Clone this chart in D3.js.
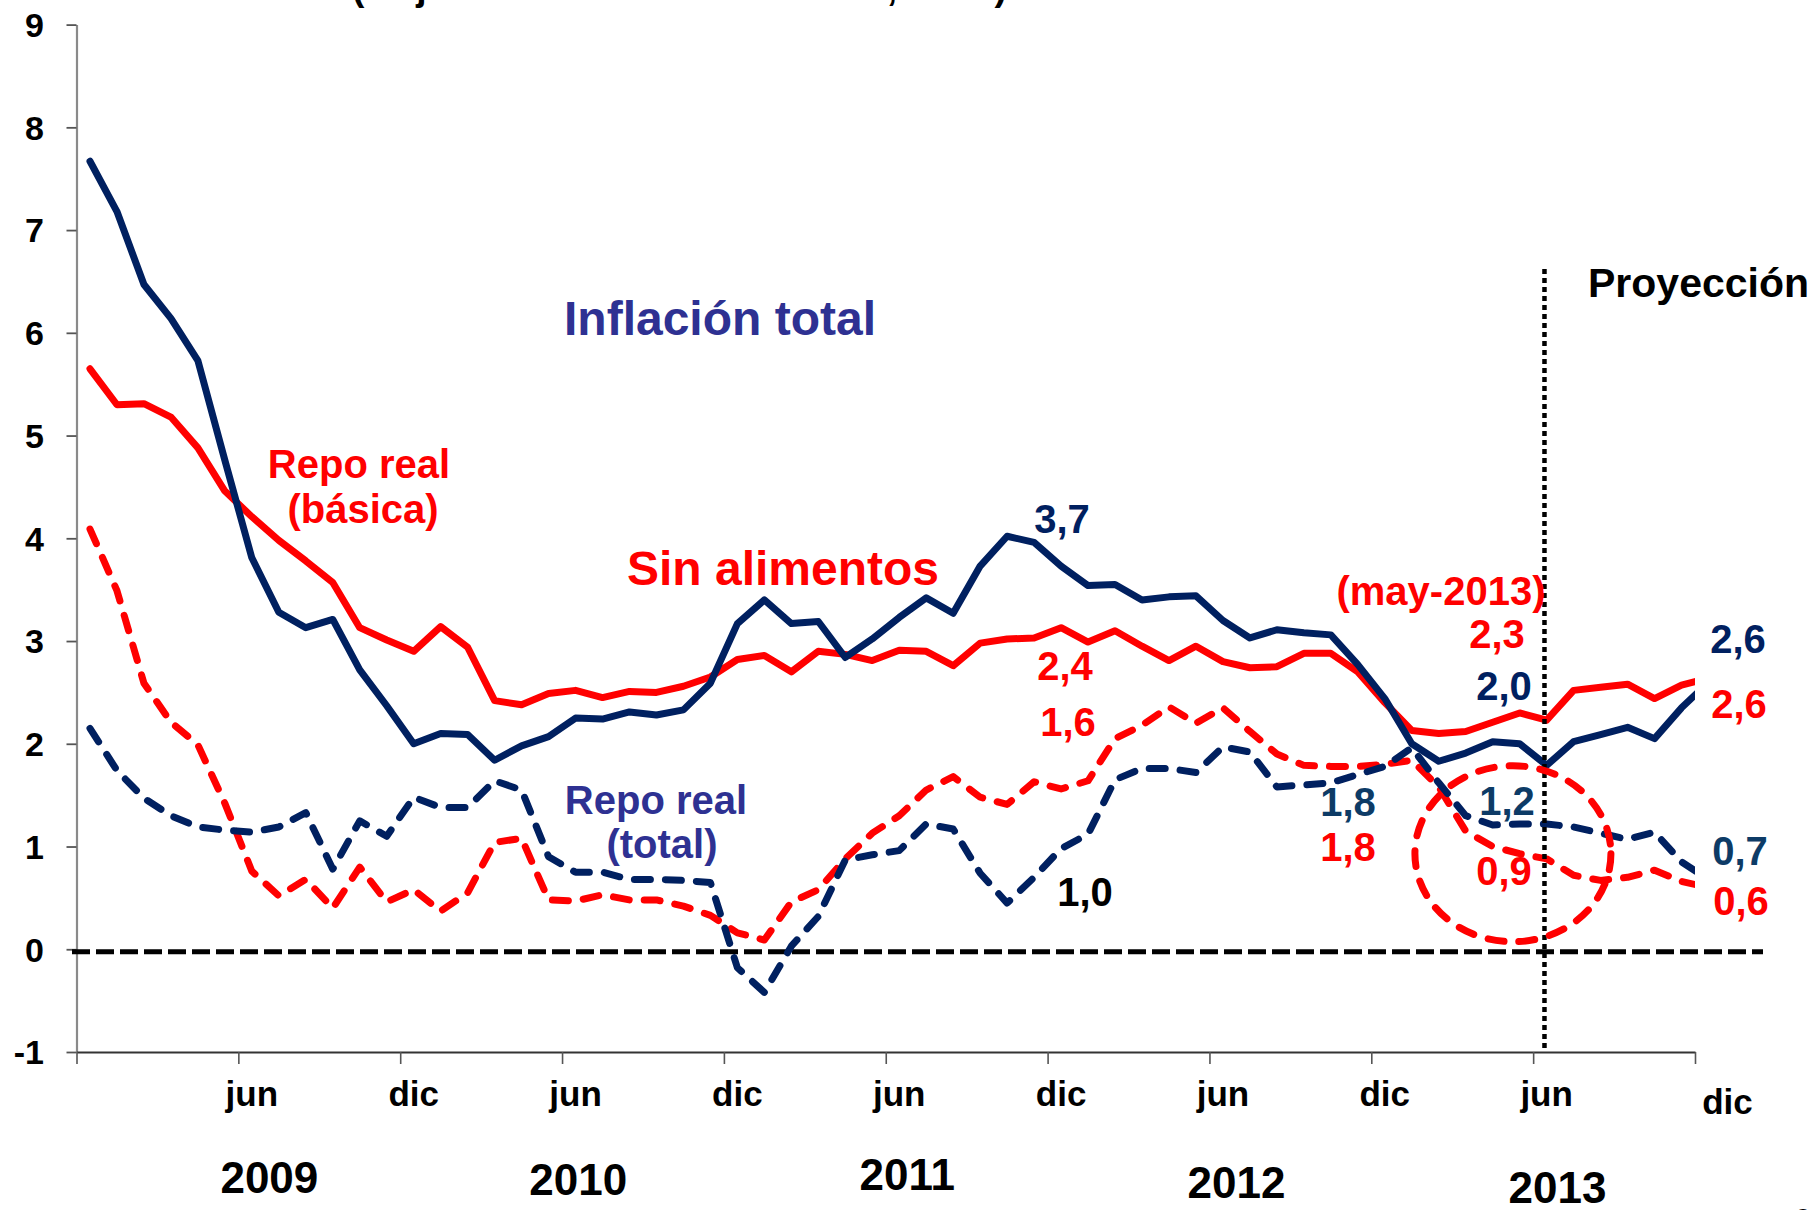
<!DOCTYPE html>
<html>
<head>
<meta charset="utf-8">
<script src="https://cdn.jsdelivr.net/npm/d3@7"></script>
<style>
  body { margin: 0; background: #fff; }
  svg { display: block; }
  text { font-family: "Liberation Sans", Arial, Helvetica, sans-serif; font-weight: bold; }
</style>
</head>
<body>
<svg id="chart" width="1816" height="1210"></svg>
<script>
// Monthly categories: dic-2008 ... dic-2013 (61 months)
const months = d3.timeMonth.range(new Date(2008, 11, 1), new Date(2014, 0, 1));

// Inflación total (annual %, observed to may-2013, projection afterwards)
const inflacionTotal = [
  7.67,
  7.18, 6.47, 6.14, 5.73, 4.76, 3.81, 3.28, 3.13, 3.21, 2.72, 2.37, 2.00,
  2.10, 2.09, 1.84, 1.98, 2.07, 2.25, 2.24, 2.31, 2.28, 2.33, 2.59, 3.17,
  3.40, 3.17, 3.19, 2.84, 3.02, 3.23, 3.42, 3.27, 3.73, 4.02, 3.96, 3.73,
  3.54, 3.55, 3.40, 3.43, 3.44, 3.20, 3.03, 3.11, 3.08, 3.06, 2.77, 2.44,
  2.00, 1.83, 1.91, 2.02, 2.00, 1.79, 2.02, 2.09, 2.16, 2.05, 2.35, 2.60
];

// Inflación sin alimentos
const sinAlimentos = [
  5.65,
  5.30, 5.31, 5.18, 4.88, 4.46, 4.21, 3.98, 3.78, 3.57, 3.13, 3.01, 2.90,
  3.14, 2.94, 2.42, 2.38, 2.49, 2.52, 2.45, 2.51, 2.50, 2.56, 2.65, 2.82,
  2.86, 2.70, 2.90, 2.87, 2.81, 2.91, 2.90, 2.76, 2.98, 3.02, 3.03, 3.13,
  2.99, 3.10, 2.95, 2.81, 2.95, 2.80, 2.74, 2.75, 2.88, 2.88, 2.70, 2.40,
  2.13, 2.10, 2.12, 2.21, 2.30, 2.23, 2.52, 2.55, 2.58, 2.44, 2.57, 2.64
];

// Tasa repo real deflactada con inflación básica
const repoRealBasica = [
  4.09,
  3.49, 2.59, 2.21, 1.99, 1.42, 0.76, 0.52, 0.68, 0.40, 0.80, 0.46, 0.58,
  0.37, 0.55, 1.04, 1.08, 0.48, 0.47, 0.53, 0.48, 0.48, 0.42, 0.33, 0.16,
  0.09, 0.46, 0.58, 0.88, 1.13, 1.30, 1.55, 1.68, 1.48, 1.41, 1.63, 1.56,
  1.64, 2.05, 2.18, 2.36, 2.20, 2.35, 2.12, 1.90, 1.79, 1.78, 1.78, 1.80,
  1.84, 1.58, 1.15, 1.00, 0.93, 0.88, 0.72, 0.67, 0.70, 0.77, 0.66, 0.60
];

// Tasa repo real deflactada con inflación total
const repoRealTotal = [
  2.15,
  1.74, 1.47, 1.30, 1.19, 1.16, 1.14, 1.19, 1.33, 0.78, 1.25, 1.10, 1.48,
  1.38, 1.38, 1.64, 1.55, 0.90, 0.75, 0.75, 0.68, 0.68, 0.67, 0.65, -0.18,
  -0.42, 0.03, 0.32, 0.87, 0.92, 0.96, 1.22, 1.17, 0.74, 0.45, 0.70, 0.98,
  1.12, 1.65, 1.76, 1.76, 1.72, 1.97, 1.92, 1.58, 1.60, 1.62, 1.70, 1.78,
  1.96, 1.62, 1.30, 1.21, 1.22, 1.22, 1.19, 1.13, 1.07, 1.14, 0.85, 0.68
];

// Axis labels
const yTicks = [-1, 0, 1, 2, 3, 4, 5, 6, 7, 8, 9];
const monthTickLabels = ["jun", "dic", "jun", "dic", "jun", "dic", "jun", "dic", "jun", "dic"];
const yearLabels = ["2009", "2010", "2011", "2012", "2013"];

// ---------------------------------------------------------------------------
const NAVY = "#002060";
const RED = "#ff0000";
const TITLE_BLUE = "#2e3192";
const LABEL_BLUE = "#0d3b66";

const svg = d3.select("#chart");
svg.append("rect").attr("width", 1816).attr("height", 1210).attr("fill", "#fff");

const x = d3.scaleLinear().domain([-0.5, 59.5]).range([76.5, 1695]);
const y = d3.scaleLinear().domain([-1, 9]).range([1052, 24.6]);
const fmt = v => d3.format(".1f")(v).replace(".", ",");

svg.append("defs").append("clipPath").attr("id", "plot-clip")
  .append("rect").attr("x", 70).attr("y", 0).attr("width", 1695 - 70).attr("height", 1210);

// Partial heading line above the plot
svg.append("text")
  .attr("x", 352).attr("y", 0)
  .attr("font-size", 38)
  .attr("textLength", 655).attr("lengthAdjust", "spacingAndGlyphs")
  .attr("fill", "#000")
  .text("(Mejor estimación de inflación, en %)");

// Y axis
const yAxis = d3.axisLeft(y).tickValues(yTicks).tickSize(10).tickSizeOuter(0).tickPadding(0);
const gy = svg.append("g").attr("transform", `translate(${x(-0.5)},0)`).call(yAxis);
gy.select(".domain").attr("stroke", "#8a8a8a").attr("stroke-width", 2.2);
gy.selectAll(".tick line").attr("stroke", "#555").attr("stroke-width", 1.8);
gy.selectAll(".tick text").remove();
svg.append("g").selectAll("text").data(yTicks).join("text")
  .attr("x", 44).attr("y", d => y(d)).attr("dy", "0.36em")
  .attr("text-anchor", "end").attr("font-size", 34).attr("fill", "#000")
  .text(d => d);

// X axis: ticks on six-month boundaries
const boundaries = d3.range(0, 11).map(k => -0.5 + 6 * k);
const xAxis = d3.axisBottom(x).tickValues(boundaries).tickSize(12).tickSizeOuter(0).tickFormat("");
const gx = svg.append("g").attr("transform", `translate(0,${y(-1)})`).call(xAxis);
gx.select(".domain").attr("stroke", "#333").attr("stroke-width", 2.2);
gx.selectAll(".tick line").attr("stroke", "#555").attr("stroke-width", 1.6);

// Month labels centred on jun / dic categories
svg.append("g").selectAll("text").data(monthTickLabels).join("text")
  .attr("x", (d, i) => x(6 + 6 * i) + (i === monthTickLabels.length - 1 ? 19 : 0))
  .attr("y", (d, i) => i === monthTickLabels.length - 1 ? 1114 : 1106)
  .attr("text-anchor", "middle").attr("font-size", 35).attr("fill", "#000")
  .text(d => d);

// Year labels
const yearPos = [[6.65, 1193], [18.1, 1195], [30.3, 1190], [42.5, 1198], [54.4, 1203]];
svg.append("g").selectAll("text").data(yearLabels).join("text")
  .attr("x", (d, i) => x(yearPos[i][0]))
  .attr("y", (d, i) => yearPos[i][1])
  .attr("text-anchor", "middle").attr("font-size", 44).attr("fill", "#000")
  .text(d => d);

// Zero reference line
svg.append("line")
  .attr("x1", 72).attr("x2", 1763).attr("y1", y(0) + 2.5).attr("y2", y(0) + 2.5)
  .attr("stroke", "#000").attr("stroke-width", 5).attr("stroke-dasharray", "18,6");

// Series
const line = d3.line().x((d, i) => x(i)).y(d => y(d));
const plot = svg.append("g").attr("clip-path", "url(#plot-clip)");
const series = [
  { values: repoRealBasica, color: RED, dash: "16,15" },
  { values: repoRealTotal, color: NAVY, dash: "16,15" },
  { values: sinAlimentos, color: RED, dash: null },
  { values: inflacionTotal, color: NAVY, dash: null }
];
plot.selectAll("path.serie").data(series).join("path")
  .attr("class", "serie")
  .attr("d", s => line(s.values))
  .attr("fill", "none")
  .attr("stroke", s => s.color)
  .attr("stroke-width", 7)
  .attr("stroke-linejoin", "round")
  .attr("stroke-linecap", "round")
  .attr("stroke-dasharray", s => s.dash);

// Projection start marker
svg.append("line")
  .attr("x1", x(53.92)).attr("x2", x(53.92)).attr("y1", 269).attr("y2", 1048)
  .attr("stroke", "#000").attr("stroke-width", 4.5).attr("stroke-dasharray", "5,4");

// Circle highlighting the may-2013 real rates
svg.append("ellipse")
  .attr("cx", x(52.75)).attr("cy", y(0.93)).attr("rx", 98).attr("ry", 88)
  .attr("fill", "none").attr("stroke", RED).attr("stroke-width", 7)
  .attr("stroke-linecap", "round").attr("stroke-dasharray", "16,15");

// Annotations
const notes = [
  { t: "Inflación total", x: 720, y: 335, c: TITLE_BLUE, s: 48 },
  { t: "Sin alimentos", x: 783, y: 585, c: RED, s: 48 },
  { t: "Repo real", x: 359, y: 478, c: RED, s: 40 },
  { t: "(básica)", x: 363, y: 523, c: RED, s: 40 },
  { t: "Repo real", x: 656, y: 814, c: TITLE_BLUE, s: 40 },
  { t: "(total)", x: 662, y: 858, c: TITLE_BLUE, s: 40 },
  { t: fmt(inflacionTotal[36]), x: 1062, y: 533, c: NAVY, s: 40 },
  { t: fmt(sinAlimentos[48]), x: 1065, y: 680, c: RED, s: 40 },
  { t: fmt(repoRealBasica[36]), x: 1068, y: 736, c: RED, s: 40 },
  { t: fmt(repoRealTotal[36]), x: 1085, y: 906, c: "#000", s: 40 },
  { t: "(may-2013)", x: 1441, y: 605, c: RED, s: 40 },
  { t: fmt(sinAlimentos[53]), x: 1497, y: 648, c: RED, s: 40 },
  { t: fmt(inflacionTotal[53]), x: 1504, y: 700, c: NAVY, s: 40 },
  { t: fmt(repoRealTotal[48]), x: 1348, y: 816, c: LABEL_BLUE, s: 40 },
  { t: fmt(repoRealBasica[48]), x: 1348, y: 861, c: RED, s: 40 },
  { t: fmt(repoRealTotal[53]), x: 1507, y: 815, c: LABEL_BLUE, s: 40 },
  { t: fmt(repoRealBasica[53]), x: 1504, y: 885, c: RED, s: 40 },
  { t: fmt(inflacionTotal[60]), x: 1738, y: 653, c: NAVY, s: 40 },
  { t: fmt(sinAlimentos[60]), x: 1739, y: 718, c: RED, s: 40 },
  { t: fmt(repoRealTotal[60]), x: 1740, y: 865, c: LABEL_BLUE, s: 40 },
  { t: fmt(repoRealBasica[60]), x: 1741, y: 915, c: RED, s: 40 }
];
svg.append("g").selectAll("text").data(notes).join("text")
  .attr("x", d => d.x).attr("y", d => d.y)
  .attr("text-anchor", "middle")
  .attr("font-size", d => d.s)
  .attr("fill", d => d.c)
  .text(d => d.t);

svg.append("text")
  .attr("x", 1588).attr("y", 297)
  .attr("font-size", 41).attr("fill", "#000")
  .text("Proyección");

// Page number at the lower right corner
svg.append("text")
  .attr("x", 1803).attr("y", 1228).attr("text-anchor", "middle")
  .attr("font-size", 28).attr("fill", "#000")
  .text("9");
</script>
</body>
</html>
